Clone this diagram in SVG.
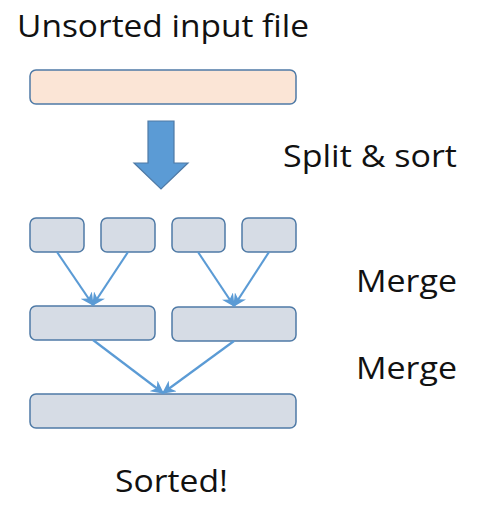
<svg xmlns="http://www.w3.org/2000/svg" width="484" height="511" viewBox="0 0 484 511">
<defs>
<style>
.box{fill:#D6DCE5;stroke:#4F7AA6;stroke-width:1.5}
.input{fill:#FBE5D6;stroke:#4F7AA6;stroke-width:1.5}
.lbl{font-family:"Open Sans","Liberation Sans",sans-serif;font-size:31px;fill:#111}
.conn{stroke:#5B9BD5;stroke-width:2.2;fill:none;marker-end:url(#ah)}
</style>
<marker id="ah" viewBox="0 0 10 10" refX="9" refY="5" markerWidth="6" markerHeight="6" orient="auto" markerUnits="strokeWidth">
<path d="M0,0 L10,5 L0,10 L3,5 Z" fill="#5B9BD5"/>
</marker>
</defs>
<rect width="484" height="511" fill="#fff"/>
<g id="title"><text class="lbl" x="17" y="37" textLength="292" lengthAdjust="spacingAndGlyphs">Unsorted input file</text></g>
<g id="input"><rect class="input" x="30" y="70" width="266" height="34" rx="6"/></g>
<g id="split-arrow"><path d="M148,121 H174 V163 H188 L161,189 L134,163 H148 Z" fill="#5B9BD5" stroke="#4F7AA6" stroke-width="1.2"/></g>
<g id="split-label"><text class="lbl" x="283" y="167" textLength="174" lengthAdjust="spacingAndGlyphs">Split &amp; sort</text></g>
<g id="r1"><rect class="box" x="30" y="218" width="54" height="34" rx="6"/></g>
<g id="r2"><rect class="box" x="101" y="218" width="54" height="34" rx="6"/></g>
<g id="r3"><rect class="box" x="172" y="218" width="53" height="34" rx="6"/></g>
<g id="r4"><rect class="box" x="242" y="218" width="54" height="34" rx="6"/></g>
<g id="merge1-label"><text class="lbl" x="356" y="292" textLength="101" lengthAdjust="spacingAndGlyphs">Merge</text></g>
<g id="m1"><rect class="box" x="30" y="306" width="125" height="34" rx="6"/></g>
<g id="m2"><rect class="box" x="172" y="307" width="124" height="34" rx="6"/></g>
<g id="merge2-label"><text class="lbl" x="356" y="379" textLength="101" lengthAdjust="spacingAndGlyphs">Merge</text></g>
<g id="sorted"><rect class="box" x="30" y="394" width="266" height="34" rx="6"/></g>
<g id="sorted-label"><text class="lbl" x="115" y="492" textLength="113" lengthAdjust="spacingAndGlyphs">Sorted!</text></g>
<g id="connectors">
<line class="conn" x1="57" y1="252" x2="93" y2="305"/>
<line class="conn" x1="128" y1="252" x2="93" y2="305"/>
<line class="conn" x1="198" y1="252" x2="234" y2="306"/>
<line class="conn" x1="269" y1="252" x2="234" y2="306"/>
<line class="conn" x1="93" y1="340" x2="163" y2="393"/>
<line class="conn" x1="234" y1="341" x2="163" y2="393"/>
</g>
</svg>
